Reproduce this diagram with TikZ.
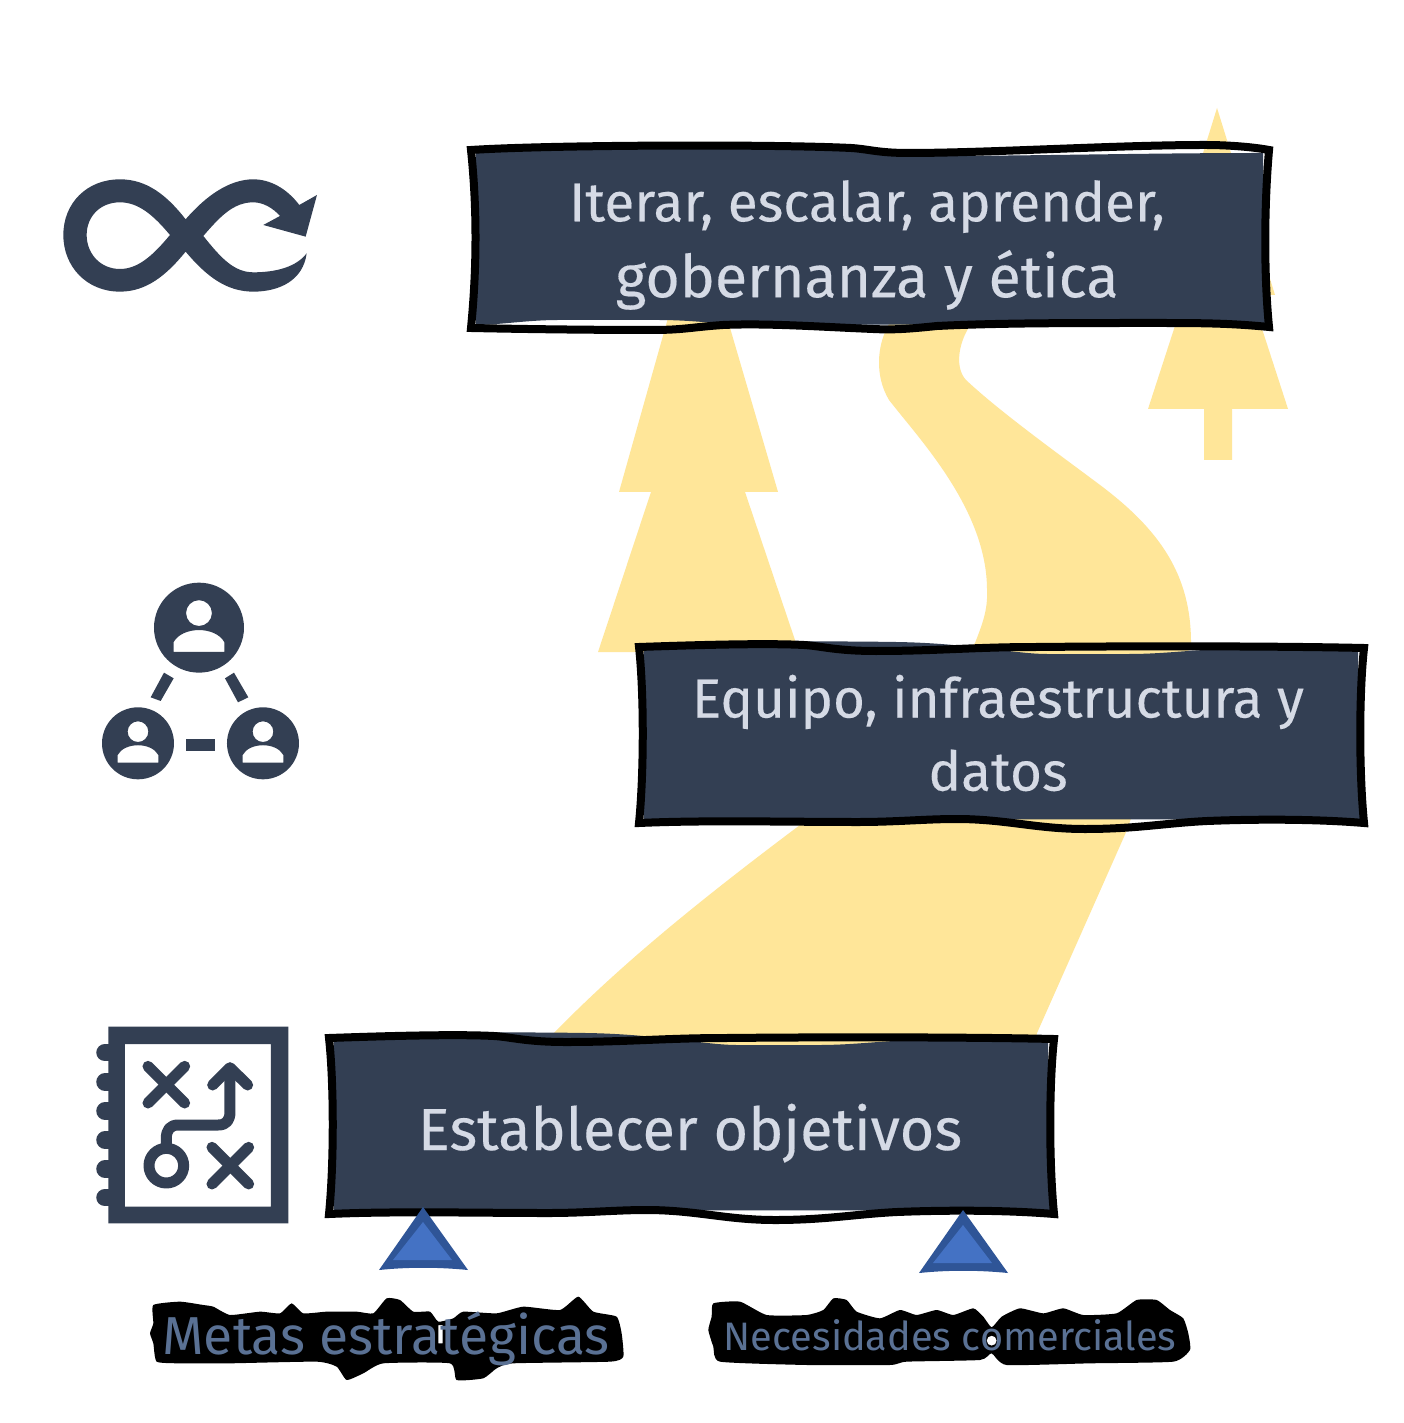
\documentclass[tikz,border=0pt]{standalone}
\usepackage{fontspec}
\setmainfont{Fira Sans}
\newfontfamily\boxfont[FakeBold=0.25]{Fira Sans}
\definecolor{slatebox}{HTML}{333F53}
\definecolor{boxtext}{HTML}{D5DAE5}
\definecolor{roadyellow}{HTML}{FFE699}
\definecolor{labeltext}{HTML}{5A7194}
\definecolor{triborder}{HTML}{2F5597}
\definecolor{trifill}{HTML}{4472C4}
\tikzset{
    boxlabel/.style = {text = boxtext, align = center, inner sep = 0pt},
    halolabel/.style = {text = labeltext, inner sep = 0pt, anchor = base},
    wavyline/.style = {draw = black, line width = 0.8mm, line join = miter},
    halo/.style = {fill = black, line join = round},
    iconline/.style = {draw = slatebox, line cap = round, line join = round},
    widebox/.pic = {
        \fill[slatebox] (8,2) .. controls (100,-4) and (300,-3) .. (383,1) .. controls (400,2) and (420,9) .. (460,9)
            .. controls (560,9) and (680,6) .. (795,6) -- (798,176) -- (683,177) -- (300,178) .. controls (250,178) and (230,173) .. (190,173)
            -- (90,173) .. controls (60,173) and (30,178) .. (8,178) -- cycle;
        \draw[wavyline] (3,3) .. controls (80,-2) and (300,-3) .. (383,1) .. controls (400,2) and (410,6) .. (440,6)
            .. controls (520,6) and (650,-2) .. (737,-2) .. controls (760,-2) and (785,0) .. (801,3)
            .. controls (796,60) and (796,130) .. (801,180)
            .. controls (760,176) and (730,176) .. (683,176) .. controls (600,176) and (530,176) .. (469,179)
            .. controls (440,182) and (425,183) .. (405,182) .. controls (355,180) and (300,176) .. (255,178)
            .. controls (225,180) and (215,183) .. (185,183) .. controls (120,183) and (50,182) .. (3,181)
            .. controls (9,120) and (9,60) .. (3,3) -- cycle;
    },
    narrowbox/.pic = {
        \fill[slatebox] (8,2) .. controls (100,-2) and (200,-2) .. (260,-1) .. controls (330,0) and (380,11) .. (411,11)
            -- (493,11) .. controls (530,11) and (560,6) .. (600,6) -- (722,6) -- (724,176) -- (8,177) -- cycle;
        \draw[wavyline] (3,4) .. controls (60,2) and (130,0) .. (168,2) .. controls (185,3) and (200,8) .. (240,8)
            .. controls (300,8) and (340,4) .. (400,4) .. controls (500,3) and (640,3) .. (728,5)
            .. controls (723,50) and (723,130) .. (728,180)
            .. controls (680,176) and (620,176) .. (571,178) .. controls (530,180) and (500,186) .. (449,186)
            .. controls (400,186) and (370,176) .. (320,176) .. controls (290,176) and (260,179) .. (222,179)
            .. controls (150,179) and (70,177) .. (3,180)
            .. controls (8,130) and (8,50) .. (3,4) -- cycle;
    },
    bluetri/.pic = {
        \fill[triborder] (-44,63) .. controls (-15,60) and (15,60) .. (45,63) -- (0,0) -- cycle;
        \fill[trifill] (-30,53) -- (29,53) -- (0,15) -- cycle;
    },
    personicon/.pic = {
        \fill[slatebox, even odd rule] (0,0) circle[radius=108]
            (0,-35) circle[radius=31]
            (-61,58) -- (-61,35) .. controls (-40,-4) and (40,-4) .. (61,35) -- (61,58) -- cycle;
    },
}
\begin{document}
\begin{tikzpicture}[x = 0.1mm, y = -0.1mm]
    \useasboundingbox (0,0) rectangle (1403,1423);
    \fill[white] (0,0) rectangle (1403,1423);

    % yellow shapes behind the boxes
    \fill[roadyellow] (598,652) -- (651,492) -- (619,492) -- (697,215) -- (778,492) -- (745,492) -- (799,652) -- cycle;
    \fill[roadyellow] (1217,108) -- (1275,295) -- (1251,295) -- (1288,409) -- (1232,409) -- (1232,460)
        -- (1204,460) -- (1204,409) -- (1148,409) -- (1185,295) -- (1159,295) -- cycle;
    \fill[roadyellow] (900,300) -- (887,328) .. controls (878,345) and (874,375) .. (889,400)
        .. controls (920,440) and (987,510) .. (987,590) .. controls (988,610) and (982,625) .. (975,643)
        -- (800,825) .. controls (700,900) and (620,965) .. (553,1034) -- (553,1060) -- (1030,1060) -- (1037,1033) -- (1127,830) -- (1191,643)
        .. controls (1191,575) and (1160,530) .. (1100,485) .. controls (1060,455) and (1000,412) .. (966,380)
        .. controls (955,368) and (958,345) .. (969,327) -- (980,300) -- cycle;

    % infinity
    \begin{scope}[shift={(40,150)}, scale=0.3333]
        \fill[slatebox, even odd rule] (437,208) .. controls (380,135) and (320,88) .. (240,88) .. controls (140,88) and (70,160) .. (70,255)
            .. controls (70,350) and (140,425) .. (240,425) .. controls (320,425) and (380,375) .. (437,305)
            .. controls (500,380) and (560,425) .. (640,425) .. controls (720,425) and (790,390) .. (800,310)
            .. controls (770,350) and (710,367) .. (640,367) .. controls (580,367) and (540,320) .. (490,258)
            .. controls (540,200) and (580,157) .. (640,157) .. controls (670,157) and (700,175) .. (720,198)
            -- (670,225) -- (797,260) -- (831,135) -- (778,165) .. controls (740,115) and (690,88) .. (640,88)
            .. controls (570,88) and (500,135) .. (437,208) -- cycle
            (390,255) .. controls (340,195) and (295,157) .. (240,157) .. controls (180,157) and (140,200) .. (140,255)
            .. controls (140,310) and (180,357) .. (240,357) .. controls (295,357) and (340,315) .. (390,255) -- cycle;
    \end{scope}

    % people
    \begin{scope}[shift={(80,570)}, scale=0.3333]
        \pic[transform shape, scale=1.25] at (357,173) {personicon};
        \pic[transform shape] at (174,520) {personicon};
        \pic[transform shape] at (549,520) {personicon};
        \fill[slatebox] (252,308) -- (281,325) -- (242,393) -- (212,382) -- cycle;
        \fill[slatebox] (462,308) -- (435,325) -- (474,397) -- (505,382) -- cycle;
        \fill[slatebox] (318,508) rectangle (406,542);
    \end{scope}

    % notebook
    \begin{scope}[shift={(80,1010)}, scale=0.3333]
        \foreach \y in {128,216,303,390,477,563}
            \draw[iconline, line width = 1.75mm] (75,\y) -- (100,\y);
        \fill[slatebox, even odd rule] (85,50) rectangle (625,640) (135,102) rectangle (573,590);
        \foreach \x/\y in {259/224,451/467}{
            \draw[iconline, line width = 1.1mm] (\x-55,\y-55) -- (\x+55,\y+55);
            \draw[iconline, line width = 1.1mm] (\x-55,\y+55) -- (\x+55,\y-55);
        }
        \draw[iconline, line width = 1.1mm] (259,467) circle[radius=52];
        \draw[iconline, line width = 1.1mm] (259,410) -- (259,385) .. controls (259,360) and (270,345) .. (295,345)
            -- (415,345) .. controls (440,345) and (450,330) .. (450,305) -- (450,175);
        \draw[iconline, line width = 1.1mm] (398,225) -- (450,173) -- (503,225);
    \end{scope}

    % boxes
    \pic at (468,147) {widebox};
    \pic at (636,643) {narrowbox};
    \pic at (326,1034) {narrowbox};
    \node[boxlabel, font = \boxfont\fontsize{15.6}{21.6}\selectfont](iterar) at (867,245){Iterar, escalar, aprender,\\\fontsize{16.8}{21.6}\selectfont gobernanza y ética};
    \node[boxlabel, font = \boxfont\fontsize{15.6}{20.8}\selectfont](equipo) at (998,733){Equipo, infraestructura y\\datos};
    \node[boxlabel, anchor = base, font = \boxfont\fontsize{16.9}{21}\selectfont](establecer) at (690,1150){Establecer objetivos};

    \pic at (423,1207) {bluetri};
    \pic at (963,1210) {bluetri};

    % black blobs under the two labels
    \begin{scope}[shift={(130,1190)}, scale=0.3333]
        \fill[halo, even odd rule] plot[smooth cycle,tension=.3] coordinates {(70,345) (150,335) (220,345) (250,350) (300,375) (390,365) (450,370) (485,340) (520,370) (590,365) (680,365) (730,370) (770,325) (810,330) (850,365) (900,365) (925,395) (970,385) (1000,365) (1100,370) (1180,350) (1290,360) (1345,320) (1390,365) (1460,380) (1475,430) (1480,500) (1440,515) (1150,520) (1100,535) (1060,565) (980,570) (960,520) (760,520) (700,550) (650,570) (620,530) (560,515) (300,520) (150,520) (80,515) (70,460) (60,430) (70,400)}
            (925,405) rectangle (938,460);
    \end{scope}
    \begin{scope}[shift={(690,1190)}, scale=0.3333]
        \fill[halo, even odd rule] plot[smooth cycle,tension=.3] coordinates {(70,340) (150,335) (230,375) (350,375) (400,360) (430,325) (470,330) (500,365) (570,385) (630,360) (680,375) (740,360) (790,375) (850,355) (880,380) (905,412) (935,380) (990,355) (1060,370) (1120,355) (1180,375) (1280,370) (1340,330) (1400,330) (1440,360) (1480,385) (1495,430) (1500,480) (1450,515) (1200,520) (950,525) (905,490) (870,510) (650,515) (600,525) (350,525) (90,515) (70,470) (55,420) (65,380)}
            (905,452) circle[radius=15];
    \end{scope}
    \node[halolabel, font = \fontsize{15.2}{16}\selectfont](metas) at (386,1354){Metas estratégicas};
    \node[halolabel, font = \fontsize{11.3}{13}\selectfont](necesidades) at (950,1350){Necesidades comerciales};
\end{tikzpicture}
\end{document}
